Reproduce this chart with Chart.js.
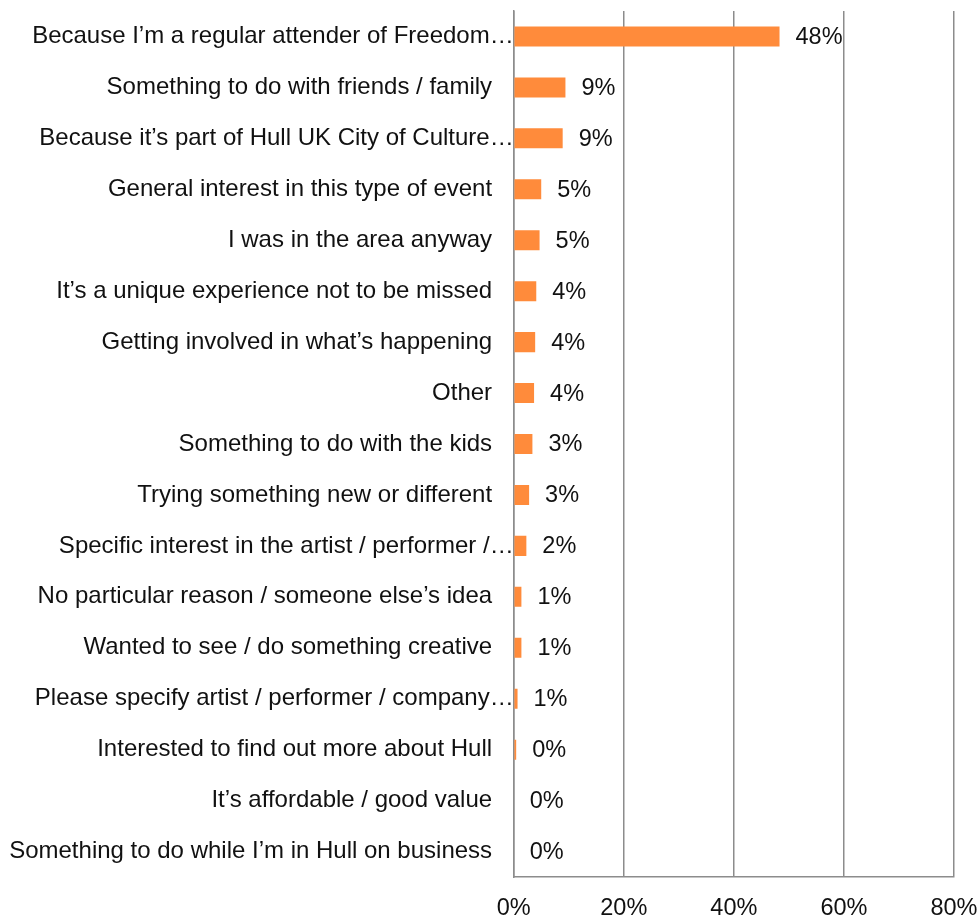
<!DOCTYPE html>
<html>
<head>
<meta charset="utf-8">
<script src="https://cdn.jsdelivr.net/npm/chart.js@4.4.1/dist/chart.umd.min.js"></script>
<style>
  html, body { margin: 0; padding: 0; background: #ffffff; }
  #wrap { width: 980px; height: 918px; position: relative; }
</style>
</head>
<body>
<div id="wrap"><canvas id="chart"></canvas></div>
<script>
// Reasons for attending (share of respondents, %)
const reasons = [
  'Because I’m a regular attender of Freedom…',
  'Something to do with friends / family',
  'Because it’s part of Hull UK City of Culture…',
  'General interest in this type of event',
  'I was in the area anyway',
  'It’s a unique experience not to be missed',
  'Getting involved in what’s happening',
  'Other',
  'Something to do with the kids',
  'Trying something new or different',
  'Specific interest in the artist / performer /…',
  'No particular reason / someone else’s idea',
  'Wanted to see / do something creative',
  'Please specify artist / performer / company…',
  'Interested to find out more about Hull',
  'It’s affordable / good value',
  'Something to do while I’m in Hull on business'
];
const shares = [48.3, 9.4, 8.9, 5.0, 4.7, 4.1, 3.9, 3.7, 3.4, 2.8, 2.3, 1.4, 1.4, 0.7, 0.45, 0, 0];
const xTicks = [0, 20, 40, 60, 80];

const FONT = '"Liberation Sans", Arial, sans-serif';
const GRID = '#8c8c8c';
const INK = '#111111';

// Writes the rounded percentage just past the end of each bar
const valueLabels = {
  id: 'valueLabels',
  afterDatasetsDraw(chart) {
    const ctx = chart.ctx;
    const meta = chart.getDatasetMeta(0);
    ctx.save();
    ctx.font = '23.5px ' + FONT;
    ctx.fillStyle = INK;
    ctx.textAlign = 'left';
    ctx.textBaseline = 'middle';
    meta.data.forEach((bar, i) => {
      const v = chart.data.datasets[0].data[i];
      ctx.fillText(Math.round(v) + '%', bar.x + 16, bar.y + 1);
    });
    ctx.restore();
  }
};

new Chart(document.getElementById('chart'), {
  type: 'bar',
  data: {
    labels: reasons,
    datasets: [{
      data: shares,
      backgroundColor: '#FF8B3B',
      borderWidth: 0,
      categoryPercentage: 1,
      barPercentage: 0.393
    }]
  },
  options: {
    indexAxis: 'y',
    responsive: true,
    maintainAspectRatio: false,
    animation: false,
    layout: { padding: { top: 11, right: 26, bottom: 0, left: 0 } },
    plugins: { legend: { display: false }, tooltip: { enabled: false } },
    scales: {
      x: {
        min: 0,
        max: 80,
        afterBuildTicks(scale) { scale.ticks = xTicks.map(v => ({ value: v })); },
        afterFit(scale) {
          scale.height = 41;
          scale.paddingLeft = 0;
          scale.paddingRight = 0;
        },
        grid: { color: GRID, lineWidth: 1.5, drawTicks: false },
        border: { display: true, color: GRID, width: 1.5 },
        ticks: {
          padding: 17,
          color: INK,
          font: { family: FONT, size: 23.5 },
          callback: v => v + '%'
        }
      },
      y: {
        afterFit(scale) {
          scale.width = 513.7;
          scale.paddingTop = 0;
          scale.paddingBottom = 0;
        },
        grid: { display: false, drawTicks: false },
        border: { display: true, color: GRID, width: 1.5 },
        ticks: {
          padding: 0,
          color: INK,
          font: { family: FONT, size: 24 },
          autoSkip: false,
          // truncated names run right up to the axis; whole names keep a gap
          callback: function (v) {
            const l = this.getLabelForValue(v);
            return l.endsWith('…') ? l : l + '\u2002\u2009\u2009';
          }
        }
      }
    }
  },
  plugins: [valueLabels]
});
</script>
</body>
</html>
